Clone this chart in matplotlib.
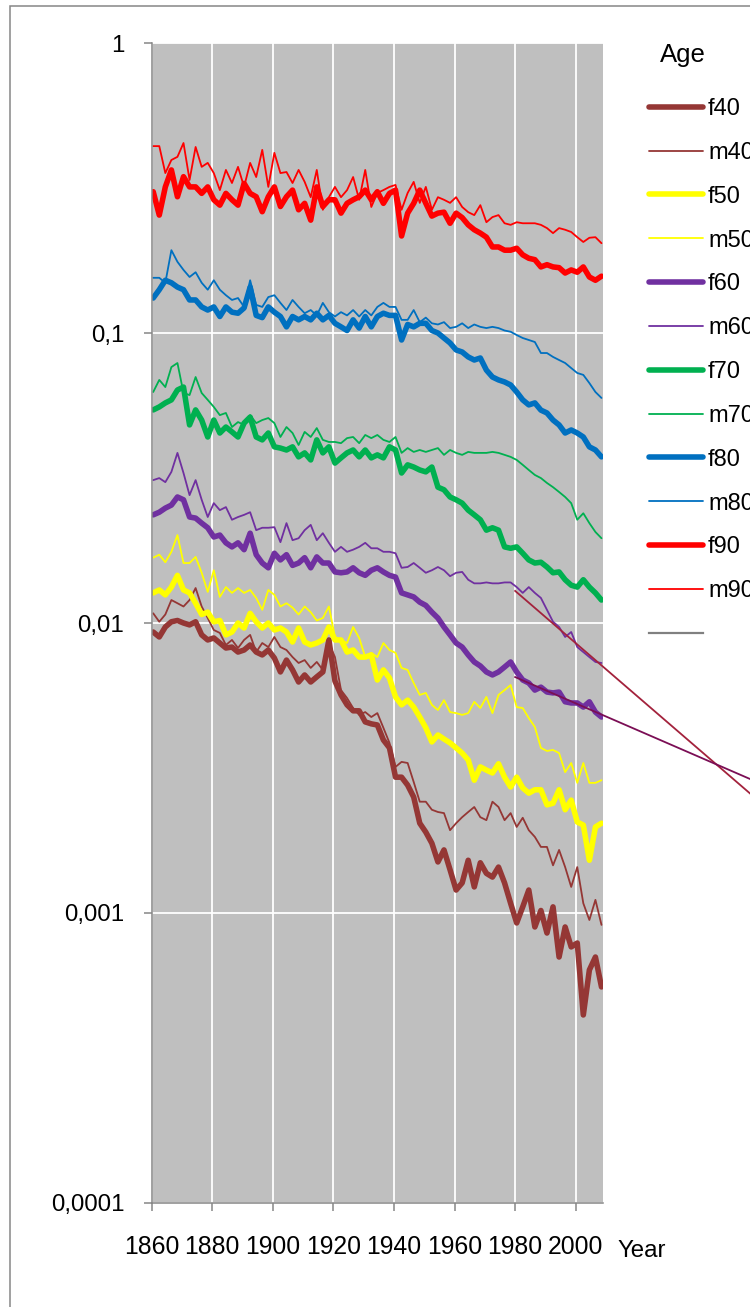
import matplotlib
matplotlib.use("Agg")
import matplotlib.pyplot as plt
from matplotlib.lines import Line2D
from matplotlib.patches import Rectangle
from matplotlib.ticker import FixedLocator, FixedFormatter, NullLocator

plt.rcParams["font.family"] = ["Liberation Sans", "DejaVu Sans"]

# ---------------------------------------------------------------------------
# Data: death rates by age and sex, every second year
# ---------------------------------------------------------------------------
years = list(range(1860, 2009, 2))

f90 = [0.307, 0.255, 0.319, 0.365, 0.295, 0.346, 0.319, 0.319, 0.303, 0.319,
       0.288, 0.276, 0.303, 0.288, 0.276, 0.328, 0.303, 0.295, 0.262, 0.295,
       0.319, 0.273, 0.295, 0.311, 0.266, 0.280, 0.245, 0.319, 0.273, 0.288,
       0.288, 0.259, 0.280, 0.288, 0.295, 0.311, 0.288, 0.307, 0.280, 0.303,
       0.311, 0.216, 0.259, 0.280, 0.311, 0.280, 0.253, 0.259, 0.261, 0.239,
       0.259, 0.250, 0.236, 0.227, 0.221, 0.214, 0.198, 0.198, 0.193, 0.193,
       0.196, 0.186, 0.181, 0.179, 0.169, 0.172, 0.169, 0.168, 0.161, 0.165,
       0.162, 0.169, 0.156, 0.152, 0.157]
m90 = [0.441, 0.441, 0.356, 0.395, 0.405, 0.452, 0.337, 0.438, 0.374, 0.386,
       0.356, 0.311, 0.365, 0.329, 0.374, 0.319, 0.386, 0.345, 0.428, 0.319,
       0.418, 0.356, 0.359, 0.329, 0.365, 0.332, 0.294, 0.365, 0.266, 0.294,
       0.319, 0.294, 0.311, 0.345, 0.288, 0.365, 0.272, 0.304, 0.311, 0.319,
       0.324, 0.266, 0.304, 0.332, 0.281, 0.319, 0.266, 0.294, 0.288, 0.281,
       0.294, 0.272, 0.261, 0.255, 0.276, 0.241, 0.251, 0.255, 0.239, 0.236,
       0.241, 0.239, 0.239, 0.239, 0.236, 0.230, 0.221, 0.230, 0.227, 0.223,
       0.214, 0.206, 0.213, 0.214, 0.204]
f80 = [0.132, 0.141, 0.152, 0.149, 0.144, 0.141, 0.130, 0.130, 0.123, 0.120,
       0.123, 0.114, 0.123, 0.118, 0.117, 0.122, 0.144, 0.115, 0.113, 0.123,
       0.118, 0.114, 0.105, 0.114, 0.111, 0.114, 0.111, 0.117, 0.111, 0.115,
       0.108, 0.105, 0.102, 0.111, 0.104, 0.114, 0.105, 0.114, 0.117, 0.115,
       0.115, 0.0946, 0.107, 0.105, 0.108, 0.108, 0.102, 0.100, 0.0961, 0.0924,
       0.0874, 0.0860, 0.0827, 0.0807, 0.0820, 0.0745, 0.0705, 0.0689, 0.0678, 0.0662,
       0.0626, 0.0588, 0.0565, 0.0574, 0.0542, 0.0530, 0.0501, 0.0482, 0.0452, 0.0463,
       0.0452, 0.0438, 0.0405, 0.0395, 0.0374]
m80 = [0.155, 0.155, 0.149, 0.193, 0.176, 0.165, 0.156, 0.162, 0.149, 0.141,
       0.152, 0.141, 0.135, 0.130, 0.132, 0.123, 0.152, 0.125, 0.123, 0.133,
       0.135, 0.127, 0.120, 0.130, 0.123, 0.117, 0.120, 0.115, 0.127, 0.118,
       0.114, 0.118, 0.115, 0.120, 0.114, 0.120, 0.115, 0.123, 0.127, 0.123,
       0.123, 0.111, 0.111, 0.120, 0.109, 0.113, 0.108, 0.107, 0.109, 0.104,
       0.105, 0.108, 0.104, 0.107, 0.105, 0.104, 0.105, 0.104, 0.102, 0.101,
       0.0984, 0.0961, 0.0946, 0.0931, 0.0853, 0.0853, 0.0827, 0.0807, 0.0788, 0.0757,
       0.0728, 0.0717, 0.0672, 0.0626, 0.0597]
f70 = [0.0543, 0.0556, 0.0574, 0.0588, 0.0636, 0.0651, 0.0482, 0.0543, 0.0501, 0.0438,
       0.0501, 0.0452, 0.0474, 0.0456, 0.0438, 0.0489, 0.0513, 0.0438, 0.0428, 0.0452,
       0.0405, 0.0401, 0.0395, 0.0405, 0.0374, 0.0386, 0.0365, 0.0428, 0.0386, 0.0405,
       0.0356, 0.0371, 0.0386, 0.0395, 0.0374, 0.0395, 0.0371, 0.0380, 0.0371, 0.0405,
       0.0395, 0.0329, 0.0351, 0.0345, 0.0337, 0.0332, 0.0345, 0.0294, 0.0288, 0.0272,
       0.0266, 0.0259, 0.0245, 0.0236, 0.0227, 0.0209, 0.0213, 0.0209, 0.0183, 0.0181,
       0.0183, 0.0174, 0.0165, 0.0161, 0.0162, 0.0156, 0.0149, 0.0150, 0.0141, 0.0135,
       0.0133, 0.0141, 0.0133, 0.0127, 0.0120]
m70 = [0.0626, 0.0689, 0.0651, 0.0763, 0.0788, 0.0621, 0.0611, 0.0705, 0.0621, 0.0588,
       0.0556, 0.0521, 0.0530, 0.0474, 0.0493, 0.0482, 0.0521, 0.0489, 0.0501, 0.0509,
       0.0489, 0.0438, 0.0474, 0.0452, 0.0411, 0.0456, 0.0438, 0.0470, 0.0428, 0.0421,
       0.0421, 0.0417, 0.0434, 0.0438, 0.0417, 0.0445, 0.0434, 0.0445, 0.0428, 0.0421,
       0.0438, 0.0386, 0.0401, 0.0389, 0.0395, 0.0389, 0.0395, 0.0401, 0.0380, 0.0395,
       0.0386, 0.0380, 0.0389, 0.0386, 0.0386, 0.0386, 0.0389, 0.0386, 0.0380, 0.0374,
       0.0365, 0.0351, 0.0337, 0.0324, 0.0316, 0.0304, 0.0294, 0.0283, 0.0272, 0.0259,
       0.0227, 0.0239, 0.0221, 0.0206, 0.0196]
f60 = [0.0236, 0.0241, 0.0249, 0.0255, 0.0272, 0.0266, 0.0232, 0.0230, 0.0221, 0.0213,
       0.0198, 0.0201, 0.0189, 0.0183, 0.0189, 0.0179, 0.0204, 0.0172, 0.0161, 0.0155,
       0.0174, 0.0165, 0.0172, 0.0158, 0.0161, 0.0168, 0.0155, 0.0169, 0.0161, 0.0161,
       0.0150, 0.0149, 0.0150, 0.0155, 0.0149, 0.0146, 0.0152, 0.0155, 0.0150, 0.0146,
       0.0144, 0.0127, 0.0125, 0.0123, 0.0118, 0.0115, 0.0109, 0.0104, 0.00969, 0.00910,
       0.00853, 0.00826, 0.00776, 0.00734, 0.00711, 0.00678, 0.00662, 0.00678, 0.00705, 0.00734,
       0.00678, 0.00636, 0.00621, 0.00587, 0.00601, 0.00578, 0.00574, 0.00578, 0.00535, 0.00530,
       0.00530, 0.00513, 0.00535, 0.00493, 0.00474]
m60 = [0.0311, 0.0316, 0.0306, 0.0332, 0.0386, 0.0329, 0.0276, 0.0311, 0.0266, 0.0232,
       0.0259, 0.0245, 0.0251, 0.0227, 0.0232, 0.0236, 0.0241, 0.0209, 0.0213, 0.0213,
       0.0214, 0.0190, 0.0221, 0.0193, 0.0196, 0.0209, 0.0218, 0.0193, 0.0204, 0.0189,
       0.0176, 0.0183, 0.0176, 0.0179, 0.0183, 0.0189, 0.0181, 0.0181, 0.0176, 0.0176,
       0.0174, 0.0155, 0.0156, 0.0161, 0.0155, 0.0149, 0.0152, 0.0156, 0.0152, 0.0145,
       0.0149, 0.0150, 0.0141, 0.0137, 0.0137, 0.0138, 0.0137, 0.0137, 0.0138, 0.0138,
       0.0133, 0.0127, 0.0133, 0.0127, 0.0122, 0.0111, 0.0101, 0.00969, 0.00895, 0.00931,
       0.00826, 0.00794, 0.00763, 0.00734, 0.00728]
f50 = [0.0127, 0.0130, 0.0125, 0.0133, 0.0146, 0.0130, 0.0127, 0.0117, 0.0107, 0.0109,
       0.0101, 0.0102, 0.00910, 0.00931, 0.0100, 0.00961, 0.0108, 0.0101, 0.00961, 0.0100,
       0.00946, 0.00961, 0.00931, 0.00860, 0.00961, 0.00860, 0.00840, 0.00853, 0.00874, 0.00969,
       0.00874, 0.00874, 0.00794, 0.00807, 0.00763, 0.00763, 0.00776, 0.00636, 0.00689, 0.00646,
       0.00556, 0.00522, 0.00542, 0.00513, 0.00474, 0.00435, 0.00389, 0.00411, 0.00398, 0.00386,
       0.00371, 0.00356, 0.00337, 0.00287, 0.00319, 0.00311, 0.00304, 0.00327, 0.00294, 0.00272,
       0.00294, 0.00270, 0.00259, 0.00266, 0.00266, 0.00236, 0.00239, 0.00266, 0.00227, 0.00245,
       0.00206, 0.00201, 0.00152, 0.00198, 0.00204]
m50 = [0.0168, 0.0172, 0.0162, 0.0176, 0.0201, 0.0161, 0.0161, 0.0169, 0.0149, 0.0128,
       0.0152, 0.0123, 0.0133, 0.0127, 0.0132, 0.0127, 0.0130, 0.0122, 0.0111, 0.0130,
       0.0125, 0.0114, 0.0117, 0.0113, 0.0107, 0.0114, 0.0109, 0.0102, 0.0104, 0.0114,
       0.00895, 0.00874, 0.00853, 0.00969, 0.00888, 0.00763, 0.00789, 0.00763, 0.00853, 0.00807,
       0.00789, 0.00700, 0.00689, 0.00621, 0.00565, 0.00574, 0.00522, 0.00501, 0.00542, 0.00493,
       0.00489, 0.00482, 0.00489, 0.00535, 0.00509, 0.00556, 0.00489, 0.00565, 0.00587, 0.00611,
       0.00513, 0.00509, 0.00470, 0.00438, 0.00371, 0.00362, 0.00365, 0.00356, 0.00306, 0.00329,
       0.00281, 0.00329, 0.00281, 0.00281, 0.00287]
f40 = [0.00931, 0.00895, 0.00969, 0.0101, 0.0102, 0.0100, 0.00985, 0.0101, 0.00910, 0.00874,
       0.00888, 0.00853, 0.00820, 0.00826, 0.00794, 0.00807, 0.00840, 0.00794, 0.00776, 0.00807,
       0.00757, 0.00678, 0.00745, 0.00689, 0.00626, 0.00662, 0.00626, 0.00652, 0.00678, 0.00874,
       0.00631, 0.00565, 0.00522, 0.00498, 0.00498, 0.00456, 0.00449, 0.00445, 0.00395, 0.00371,
       0.00294, 0.00294, 0.00276, 0.00251, 0.00204, 0.00190, 0.00174, 0.00150, 0.00165, 0.00141,
       0.00120, 0.00127, 0.00152, 0.00123, 0.00149, 0.00137, 0.00133, 0.00144, 0.00127, 0.00108,
       0.000924, 0.00105, 0.00120, 0.000895, 0.00102, 0.000853, 0.00105, 0.000705, 0.000895, 0.000764,
       0.000788, 0.000445, 0.000636, 0.000705, 0.000556]
m40 = [0.0108, 0.0101, 0.0107, 0.0120, 0.0117, 0.0114, 0.0120, 0.0132, 0.0114, 0.0104,
       0.00946, 0.00924, 0.00840, 0.00874, 0.00820, 0.00874, 0.00910, 0.00794, 0.00853, 0.00826,
       0.00895, 0.00826, 0.00807, 0.00763, 0.00728, 0.00745, 0.00700, 0.00734, 0.00689, 0.00853,
       0.00763, 0.00587, 0.00551, 0.00509, 0.00482, 0.00493, 0.00474, 0.00489, 0.00435, 0.00386,
       0.00319, 0.00332, 0.00329, 0.00283, 0.00242, 0.00242, 0.00227, 0.00223, 0.00221, 0.00193,
       0.00204, 0.00214, 0.00223, 0.00232, 0.00214, 0.00209, 0.00242, 0.00232, 0.00209, 0.00221,
       0.00198, 0.00213, 0.00193, 0.00183, 0.00169, 0.00169, 0.00146, 0.00165, 0.00144, 0.00123,
       0.00144, 0.00108, 0.000946, 0.00111, 0.000910]

# exponential trend lines drawn from 1980 and projected past the plot area
trend_years = [1979.5, 2060]
m60_trend = [0.0129, 0.00243]
f60_trend = [0.00651, 0.00281]

ytick_vals = [1e-4, 1e-3, 1e-2, 1e-1, 1]
ytick_labels = ["0,0001", "0,001", "0,01", "0,1", "1"]
xtick_labels = ["1860", "1880", "1900", "1920", "1940", "1960", "1980", "2000"]

# ---------------------------------------------------------------------------
# Style
# ---------------------------------------------------------------------------
W, H = 750, 1307
BROWN, YELLOW, PURPLE = "#953735", "#FFFF00", "#7030A0"
GREEN, BLUE, RED = "#00B050", "#0070C0", "#FF0000"
AXIS_GREY = "#868686"
THICK, THIN = 4.0, 1.3

series = [
    ("f40", f40, BROWN, THICK), ("m40", m40, BROWN, THIN),
    ("f50", f50, YELLOW, THICK), ("m50", m50, YELLOW, THIN),
    ("f60", f60, PURPLE, THICK), ("m60", m60, PURPLE, THIN),
    ("f70", f70, GREEN, THICK), ("m70", m70, GREEN, THIN),
    ("f80", f80, BLUE, THICK), ("m80", m80, BLUE, THIN),
    ("f90", f90, RED, THICK), ("m90", m90, RED, THIN),
]

fig = plt.figure(figsize=(W / 100, H / 100), dpi=100)
ax = fig.add_axes([151.7 / W, 1 - 1203 / H, (603 - 151.7) / W, (1203 - 43) / H])
ax.set_facecolor("#BFBFBF")

handles = []
for name, vals, col, lw in series:
    ln, = ax.plot(years, vals, color=col, lw=lw, solid_joinstyle="round",
                  solid_capstyle="round", label=name)
    handles.append(ln)

ax.plot(trend_years, m60_trend, color="#A3223C", lw=1.3, clip_on=False, zorder=5)
ax.plot(trend_years, f60_trend, color="#7B0E55", lw=1.3, clip_on=False, zorder=5)

ax.set_yscale("log")
ax.set_ylim(1e-4, 1)
ax.set_xlim(1859.5, 2008.5)

# category-style axis: ticks sit on the boundaries between years
ax.xaxis.set_major_locator(FixedLocator([1859.5 + 20 * i for i in range(len(xtick_labels))]))
ax.xaxis.set_major_formatter(FixedFormatter(xtick_labels))
ax.yaxis.set_major_locator(FixedLocator(ytick_vals))
ax.yaxis.set_major_formatter(FixedFormatter(ytick_labels))
ax.yaxis.set_minor_locator(NullLocator())

ax.set_axisbelow(True)
ax.grid(True, which="major", color="white", lw=1.3)
for side in ("top", "right"):
    ax.spines[side].set_visible(False)
for side in ("left", "bottom"):
    ax.spines[side].set_color(AXIS_GREY)
    ax.spines[side].set_linewidth(1.1)
ax.tick_params(direction="out", length=5.8, width=1.1, color=AXIS_GREY,
               labelcolor="black")
ax.tick_params(axis="x", pad=17, labelsize=17.8)
ax.tick_params(axis="y", pad=14, labelsize=17.3)

fig.text(617 / W, 1 - 1257 / H, "Year", fontsize=17.3, va="baseline", ha="left")

# legend, partly running off the right edge as in the original
handles.append(Line2D([0], [0], color="#808080", lw=1.6))
labels = [s[0] for s in series] + [""]
fig.legend(handles, labels, loc="upper left",
           bbox_to_anchor=(649 / W, 1 - 98 / H), bbox_transform=fig.transFigure,
           frameon=False, fontsize=17, handlelength=2.3, handletextpad=0.2,
           labelspacing=0.925, borderpad=0, borderaxespad=0)
fig.text(660 / W, 1 - 62 / H, "Age", fontsize=18.5, va="baseline", ha="left")

# outer chart border (only top and left edges fall inside the picture)
fig.add_artist(Rectangle((10 / W, -0.5), 2, 1.5 - 6 / H, transform=fig.transFigure,
                         fill=False, edgecolor=AXIS_GREY, lw=1.1, clip_on=False))

fig.savefig("out.png", dpi=100)
